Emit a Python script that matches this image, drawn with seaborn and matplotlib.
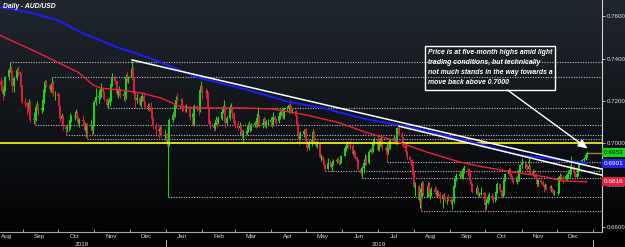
import numpy as np
import pandas as pd
import matplotlib
matplotlib.use("Agg")
import matplotlib.pyplot as plt
import matplotlib.dates as mdates
import matplotlib.transforms as mtransforms
from matplotlib.patches import Rectangle
from matplotlib.ticker import NullFormatter, FixedLocator
import seaborn as sns

# ---- daily AUD/USD candles, one list per month (close / high / low) ----
first_open = 0.7290

aug18_c = [0.7275, 0.7265, 0.7230, 0.7255, 0.7315, 0.7345, 0.7350, 0.7340, 0.7270, 0.7310, 0.7345, 0.7335, 0.7325, 0.7265, 0.7195]
aug18_h = [0.7315, 0.7300, 0.7270, 0.7265, 0.7320, 0.7355, 0.7382, 0.7363, 0.7345, 0.7320, 0.7355, 0.7365, 0.7340, 0.7330, 0.7275]
aug18_l = [0.7245, 0.7245, 0.7202, 0.7225, 0.7245, 0.7300, 0.7335, 0.7320, 0.7240, 0.7240, 0.7300, 0.7320, 0.7300, 0.7260, 0.7185]

sep18_c = [0.7190, 0.7175, 0.7165, 0.7195, 0.7110, 0.7115, 0.7110, 0.7170, 0.7180, 0.7155, 0.7165, 0.7205, 0.7250, 0.7290, 0.7275, 0.7255, 0.7265, 0.7285, 0.7230, 0.7230]
sep18_h = [0.7215, 0.7195, 0.7185, 0.7210, 0.7200, 0.7145, 0.7130, 0.7185, 0.7200, 0.7185, 0.7175, 0.7215, 0.7255, 0.7300, 0.7300, 0.7280, 0.7275, 0.7315, 0.7295, 0.7245]
sep18_l = [0.7170, 0.7135, 0.7145, 0.7150, 0.7100, 0.7090, 0.7085, 0.7105, 0.7155, 0.7135, 0.7140, 0.7150, 0.7190, 0.7240, 0.7265, 0.7240, 0.7240, 0.7255, 0.7225, 0.7205]

oct18_c = [0.7225, 0.7175, 0.7115, 0.7130, 0.7080, 0.7065, 0.7070, 0.7070, 0.7110, 0.7125, 0.7130, 0.7140, 0.7120, 0.7095, 0.7110, 0.7105, 0.7080, 0.7060, 0.7090, 0.7080, 0.7085, 0.7060, 0.7085]
oct18_h = [0.7240, 0.7230, 0.7180, 0.7140, 0.7135, 0.7085, 0.7090, 0.7095, 0.7140, 0.7135, 0.7150, 0.7160, 0.7150, 0.7130, 0.7120, 0.7135, 0.7110, 0.7100, 0.7095, 0.7095, 0.7110, 0.7090, 0.7095]
oct18_l = [0.7200, 0.7160, 0.7100, 0.7090, 0.7060, 0.7040, 0.7050, 0.7055, 0.7065, 0.7100, 0.7110, 0.7120, 0.7110, 0.7085, 0.7075, 0.7085, 0.7060, 0.7050, 0.7030, 0.7020, 0.7060, 0.7040, 0.7045]

nov18_c = [0.7195, 0.7220, 0.7225, 0.7250, 0.7255, 0.7240, 0.7210, 0.7180, 0.7190, 0.7215, 0.7280, 0.7310, 0.7295, 0.7230, 0.7245, 0.7250, 0.7225, 0.7230, 0.7220, 0.7315, 0.7305, 0.7310]
nov18_h = [0.7205, 0.7260, 0.7235, 0.7260, 0.7285, 0.7260, 0.7245, 0.7215, 0.7210, 0.7225, 0.7290, 0.7330, 0.7320, 0.7300, 0.7255, 0.7270, 0.7255, 0.7245, 0.7240, 0.7325, 0.7340, 0.7320]
nov18_l = [0.7080, 0.7180, 0.7190, 0.7210, 0.7220, 0.7220, 0.7200, 0.7170, 0.7165, 0.7175, 0.7200, 0.7270, 0.7280, 0.7225, 0.7215, 0.7235, 0.7215, 0.7205, 0.7195, 0.7210, 0.7290, 0.7285]

dec18_c = [0.7350, 0.7305, 0.7230, 0.7205, 0.7215, 0.7180, 0.7205, 0.7225, 0.7195, 0.7170, 0.7175, 0.7170, 0.7150, 0.7115, 0.7080, 0.7065, 0.7055, 0.7065, 0.7045, 0.7045]
dec18_h = [0.7394, 0.7360, 0.7315, 0.7240, 0.7235, 0.7225, 0.7225, 0.7240, 0.7240, 0.7200, 0.7190, 0.7190, 0.7195, 0.7160, 0.7125, 0.7095, 0.7080, 0.7080, 0.7080, 0.7060]
dec18_l = [0.7305, 0.7290, 0.7225, 0.7165, 0.7190, 0.7175, 0.7170, 0.7200, 0.7180, 0.7160, 0.7155, 0.7150, 0.7140, 0.7100, 0.7065, 0.7045, 0.7020, 0.7040, 0.7030, 0.7015]

jan19_c = [0.6995, 0.7015, 0.7110, 0.7135, 0.7130, 0.7185, 0.7205, 0.7200, 0.7200, 0.7175, 0.7170, 0.7165, 0.7165, 0.7160, 0.7125, 0.7125, 0.7085, 0.7175, 0.7165, 0.7155, 0.7250, 0.7270]
jan19_h = [0.7050, 0.7060, 0.7120, 0.7145, 0.7155, 0.7195, 0.7225, 0.7235, 0.7210, 0.7215, 0.7180, 0.7180, 0.7185, 0.7175, 0.7175, 0.7140, 0.7135, 0.7185, 0.7180, 0.7175, 0.7260, 0.7296]
jan19_l = [0.6985, 0.6744, 0.6985, 0.7100, 0.7115, 0.7125, 0.7165, 0.7195, 0.7170, 0.7145, 0.7150, 0.7145, 0.7145, 0.7150, 0.7110, 0.7115, 0.7080, 0.7085, 0.7150, 0.7135, 0.7145, 0.7240]

feb19_c = [0.7240, 0.7235, 0.7235, 0.7165, 0.7090, 0.7085, 0.7070, 0.7095, 0.7110, 0.7100, 0.7115, 0.7145, 0.7160, 0.7175, 0.7095, 0.7120, 0.7165, 0.7170, 0.7140, 0.7095]
feb19_h = [0.7270, 0.7260, 0.7250, 0.7240, 0.7170, 0.7110, 0.7095, 0.7110, 0.7130, 0.7125, 0.7130, 0.7160, 0.7175, 0.7205, 0.7180, 0.7130, 0.7180, 0.7190, 0.7175, 0.7145]
feb19_l = [0.7210, 0.7215, 0.7210, 0.7150, 0.7080, 0.7065, 0.7055, 0.7060, 0.7085, 0.7075, 0.7090, 0.7110, 0.7140, 0.7150, 0.7070, 0.7085, 0.7110, 0.7155, 0.7120, 0.7085]

mar19_c = [0.7090, 0.7070, 0.7080, 0.7050, 0.7035, 0.7045, 0.7055, 0.7080, 0.7090, 0.7060, 0.7085, 0.7095, 0.7090, 0.7120, 0.7125, 0.7085, 0.7095, 0.7115, 0.7080, 0.7100, 0.7100]
mar19_h = [0.7110, 0.7105, 0.7100, 0.7085, 0.7065, 0.7060, 0.7070, 0.7095, 0.7105, 0.7095, 0.7095, 0.7105, 0.7110, 0.7140, 0.7170, 0.7135, 0.7105, 0.7125, 0.7120, 0.7110, 0.7115]
mar19_l = [0.7070, 0.7060, 0.7045, 0.7045, 0.7025, 0.7005, 0.7040, 0.7050, 0.7070, 0.7050, 0.7055, 0.7075, 0.7070, 0.7075, 0.7110, 0.7075, 0.7070, 0.7080, 0.7075, 0.7070, 0.7085]

apr19_c = [0.7110, 0.7085, 0.7125, 0.7110, 0.7105, 0.7130, 0.7130, 0.7160, 0.7120, 0.7165, 0.7165, 0.7180, 0.7175, 0.7150, 0.7150, 0.7130, 0.7080, 0.7040, 0.7020, 0.7045, 0.7055, 0.7050]
apr19_h = [0.7125, 0.7115, 0.7145, 0.7135, 0.7120, 0.7145, 0.7150, 0.7170, 0.7165, 0.7170, 0.7175, 0.7185, 0.7206, 0.7180, 0.7160, 0.7155, 0.7135, 0.7095, 0.7050, 0.7055, 0.7065, 0.7070]
apr19_l = [0.7080, 0.7070, 0.7080, 0.7095, 0.7090, 0.7095, 0.7115, 0.7125, 0.7115, 0.7115, 0.7150, 0.7140, 0.7165, 0.7140, 0.7140, 0.7125, 0.7070, 0.7025, 0.6990, 0.7015, 0.7030, 0.7025]

may19_c = [0.7010, 0.6975, 0.7005, 0.7015, 0.7050, 0.7005, 0.6985, 0.6995, 0.6935, 0.6935, 0.6920, 0.6895, 0.6875, 0.6905, 0.6900, 0.6885, 0.6900, 0.6915, 0.6920, 0.6915, 0.6910, 0.6910, 0.6940]
may19_h = [0.7070, 0.7015, 0.7015, 0.7025, 0.7065, 0.7055, 0.7015, 0.7010, 0.6995, 0.6950, 0.6940, 0.6925, 0.6900, 0.6930, 0.6920, 0.6910, 0.6910, 0.6925, 0.6930, 0.6935, 0.6920, 0.6925, 0.6945]
may19_l = [0.6995, 0.6960, 0.6965, 0.6985, 0.7005, 0.6995, 0.6980, 0.6975, 0.6930, 0.6915, 0.6900, 0.6885, 0.6865, 0.6880, 0.6890, 0.6880, 0.6865, 0.6895, 0.6905, 0.6910, 0.6895, 0.6900, 0.6905]

jun19_c = [0.6975, 0.6985, 0.6995, 0.6990, 0.6985, 0.6950, 0.6955, 0.6935, 0.6915, 0.6875, 0.6860, 0.6880, 0.6905, 0.6925, 0.6905, 0.6955, 0.6970, 0.6960, 0.7005, 0.7020]
jun19_h = [0.6985, 0.7000, 0.7010, 0.7005, 0.7015, 0.6995, 0.6965, 0.6960, 0.6935, 0.6925, 0.6885, 0.6890, 0.6915, 0.6950, 0.6945, 0.6965, 0.6975, 0.6985, 0.7010, 0.7030]
jun19_l = [0.6940, 0.6960, 0.6975, 0.6975, 0.6970, 0.6945, 0.6935, 0.6925, 0.6905, 0.6870, 0.6850, 0.6832, 0.6860, 0.6895, 0.6895, 0.6900, 0.6955, 0.6950, 0.6955, 0.6990]

jul19_c = [0.6965, 0.6995, 0.7010, 0.7020, 0.6975, 0.6965, 0.6955, 0.6995, 0.6975, 0.7015, 0.7025, 0.7005, 0.7010, 0.7070, 0.7045, 0.7030, 0.6985, 0.6975, 0.6955, 0.6935, 0.6920, 0.6890, 0.6850]
jul19_h = [0.7045, 0.7010, 0.7025, 0.7030, 0.7025, 0.6985, 0.6975, 0.7005, 0.7010, 0.7020, 0.7040, 0.7030, 0.7025, 0.7075, 0.7082, 0.7050, 0.7030, 0.6995, 0.6990, 0.6960, 0.6940, 0.6925, 0.6900]
jul19_l = [0.6960, 0.6960, 0.6985, 0.7005, 0.6965, 0.6950, 0.6911, 0.6950, 0.6965, 0.6970, 0.7005, 0.6995, 0.6995, 0.6995, 0.7035, 0.7015, 0.6980, 0.6970, 0.6945, 0.6925, 0.6905, 0.6880, 0.6845]

aug19_c = [0.6790, 0.6795, 0.6730, 0.6770, 0.6745, 0.6810, 0.6765, 0.6765, 0.6795, 0.6760, 0.6765, 0.6780, 0.6770, 0.6760, 0.6765, 0.6760, 0.6735, 0.6755, 0.6740, 0.6735, 0.6735, 0.6730]
aug19_h = [0.6865, 0.6815, 0.6800, 0.6785, 0.6790, 0.6820, 0.6820, 0.6790, 0.6815, 0.6815, 0.6780, 0.6790, 0.6795, 0.6790, 0.6775, 0.6775, 0.6770, 0.6760, 0.6770, 0.6750, 0.6750, 0.6760]
aug19_l = [0.6785, 0.6750, 0.6720, 0.6690, 0.6677, 0.6740, 0.6755, 0.6745, 0.6745, 0.6745, 0.6735, 0.6750, 0.6760, 0.6745, 0.6750, 0.6745, 0.6715, 0.6690, 0.6735, 0.6720, 0.6710, 0.6725]

sep19_c = [0.6720, 0.6725, 0.6795, 0.6830, 0.6845, 0.6855, 0.6845, 0.6855, 0.6875, 0.6875, 0.6865, 0.6860, 0.6820, 0.6800, 0.6770, 0.6770, 0.6785, 0.6755, 0.6760, 0.6765, 0.6755]
sep19_h = [0.6745, 0.6735, 0.6805, 0.6835, 0.6860, 0.6865, 0.6865, 0.6870, 0.6885, 0.6895, 0.6870, 0.6880, 0.6870, 0.6825, 0.6810, 0.6780, 0.6800, 0.6785, 0.6770, 0.6790, 0.6770]
sep19_l = [0.6710, 0.6688, 0.6715, 0.6790, 0.6820, 0.6835, 0.6830, 0.6835, 0.6830, 0.6860, 0.6845, 0.6830, 0.6815, 0.6780, 0.6765, 0.6760, 0.6760, 0.6750, 0.6745, 0.6750, 0.6740]

oct19_c = [0.6705, 0.6715, 0.6745, 0.6750, 0.6740, 0.6735, 0.6740, 0.6770, 0.6805, 0.6775, 0.6750, 0.6760, 0.6825, 0.6855, 0.6870, 0.6850, 0.6845, 0.6825, 0.6815, 0.6840, 0.6830, 0.6870, 0.6895]
oct19_h = [0.6770, 0.6735, 0.6760, 0.6770, 0.6765, 0.6755, 0.6750, 0.6775, 0.6815, 0.6810, 0.6780, 0.6770, 0.6835, 0.6860, 0.6880, 0.6880, 0.6860, 0.6850, 0.6830, 0.6845, 0.6845, 0.6875, 0.6900]
oct19_l = [0.6671, 0.6685, 0.6710, 0.6725, 0.6730, 0.6715, 0.6720, 0.6730, 0.6765, 0.6770, 0.6740, 0.6745, 0.6755, 0.6820, 0.6850, 0.6840, 0.6830, 0.6815, 0.6805, 0.6805, 0.6815, 0.6820, 0.6860]

nov19_c = [0.6905, 0.6905, 0.6895, 0.6875, 0.6890, 0.6855, 0.6860, 0.6850, 0.6835, 0.6805, 0.6825, 0.6815, 0.6800, 0.6790, 0.6795, 0.6790, 0.6785, 0.6785, 0.6775, 0.6765, 0.6765]
nov19_h = [0.6930, 0.6915, 0.6915, 0.6900, 0.6930, 0.6895, 0.6875, 0.6870, 0.6860, 0.6840, 0.6830, 0.6830, 0.6825, 0.6805, 0.6810, 0.6805, 0.6800, 0.6800, 0.6790, 0.6780, 0.6775]
nov19_l = [0.6880, 0.6880, 0.6875, 0.6865, 0.6870, 0.6850, 0.6845, 0.6840, 0.6815, 0.6790, 0.6795, 0.6805, 0.6795, 0.6770, 0.6780, 0.6775, 0.6775, 0.6770, 0.6770, 0.6755, 0.6755]

dec19_c = [0.6770, 0.6840, 0.6845, 0.6840, 0.6830, 0.6845, 0.6850, 0.6855, 0.6870, 0.6890, 0.6860, 0.6840, 0.6855, 0.6880, 0.6910, 0.6920, 0.6925, 0.6945, 0.6953]
dec19_h = [0.6790, 0.6845, 0.6860, 0.6855, 0.6850, 0.6855, 0.6860, 0.6870, 0.6895, 0.6938, 0.6875, 0.6865, 0.6865, 0.6885, 0.6915, 0.6925, 0.6935, 0.6950, 0.6960]
dec19_l = [0.6755, 0.6765, 0.6825, 0.6820, 0.6810, 0.6825, 0.6825, 0.6830, 0.6835, 0.6855, 0.6845, 0.6830, 0.6835, 0.6845, 0.6865, 0.6900, 0.6910, 0.6920, 0.6935]

# ---- moving averages ----
ma_slow_dates = ["2018-08-12", "2018-09-09", "2018-09-30", "2018-10-22", "2018-11-20", "2018-12-18",
                 "2019-01-30", "2019-03-09", "2019-04-02", "2019-04-17", "2019-05-15", "2019-06-20",
                 "2019-07-28", "2019-08-26", "2019-09-26", "2019-10-30", "2019-12-06", "2019-12-27"]
ma_slow_vals = [0.7645, 0.7616, 0.7583, 0.7521, 0.7455, 0.7403, 0.7308, 0.7256, 0.7218, 0.7194,
                0.7166, 0.7114, 0.7076, 0.7038, 0.6995, 0.6943, 0.6919, 0.6905]

ma_fast_dates = ["2018-08-12", "2018-08-21", "2018-09-09", "2018-09-30", "2018-10-18", "2018-10-31",
                 "2018-11-06", "2018-11-23", "2018-12-11", "2018-12-28", "2019-01-14", "2019-01-30",
                 "2019-02-17", "2019-03-09", "2019-04-02", "2019-04-17", "2019-05-01", "2019-05-30",
                 "2019-06-20", "2019-07-14", "2019-08-12", "2019-09-09", "2019-09-30", "2019-10-24",
                 "2019-11-22", "2019-12-06", "2019-12-27"]
ma_fast_vals = [0.7512, 0.7488, 0.7441, 0.7384, 0.7336, 0.7275, 0.7261, 0.7251, 0.7237, 0.7213,
                0.7171, 0.7166, 0.7166, 0.7166, 0.7161, 0.7147, 0.7133, 0.7095, 0.7052, 0.7014,
                0.6957, 0.6910, 0.6886, 0.6863, 0.6839, 0.6820, 0.6816]

# ---- trendlines (anchor high -> right edge) ----
trend_a_dates = ["2018-12-03", "2020-01-09"]
trend_a_vals = [0.7394, 0.6876]
trend_b_dates = ["2019-07-19", "2020-01-09"]
trend_b_vals = [0.7080, 0.6847]

# ---- dotted horizontal levels (start date, price) ----
level_dates = ["2018-08-21", "2018-09-26", "2018-11-13", "2018-09-11", "2018-10-08", "2018-10-26",
               "2019-01-03", "2019-05-17", "2019-06-18", "2019-07-09", "2019-08-07"]
level_vals = [0.7382, 0.7315, 0.7165, 0.7085, 0.7040, 0.7020, 0.6744, 0.6865, 0.6832, 0.6911, 0.6677]

round_level = 0.7000
tag_vals = [0.6953, 0.6901, 0.6816]
y_ticks = [0.66, 0.68, 0.70, 0.72, 0.74, 0.76]

note = ("Price is at five-month highs amid light\n"
        "trading conditions, but technically\n"
        "not much stands in the way towards a\n"
        "move back above 0.7000")

# ---- assemble the candle table ----
closes = (aug18_c + sep18_c + oct18_c + nov18_c + dec18_c + jan19_c + feb19_c + mar19_c + apr19_c
          + may19_c + jun19_c + jul19_c + aug19_c + sep19_c + oct19_c + nov19_c + dec19_c)
highs = (aug18_h + sep18_h + oct18_h + nov18_h + dec18_h + jan19_h + feb19_h + mar19_h + apr19_h
         + may19_h + jun19_h + jul19_h + aug19_h + sep19_h + oct19_h + nov19_h + dec19_h)
lows = (aug18_l + sep18_l + oct18_l + nov18_l + dec18_l + jan19_l + feb19_l + mar19_l + apr19_l
        + may19_l + jun19_l + jul19_l + aug19_l + sep19_l + oct19_l + nov19_l + dec19_l)

days = pd.bdate_range("2018-08-13", "2019-12-27")
days = days[~days.isin(pd.to_datetime(["2018-12-25", "2019-01-01", "2019-12-25"]))]

df = pd.DataFrame({"date": days, "close": closes, "high": highs, "low": lows})
df["open"] = df["close"].shift(1).fillna(first_open)
df["x"] = mdates.date2num(df["date"])
df["top"] = df[["high", "open", "close"]].max(axis=1)
df["bot"] = df[["low", "open", "close"]].min(axis=1)
up = df["close"] >= df["open"]
GREEN, RED = "#19d419", "#d81d3c"
df["col"] = np.where(up, GREEN, RED)

def dnum(lst):
    return mdates.date2num(pd.to_datetime(lst))

# ---- figure ----
sns.set_style("dark")
plt.rcParams["font.family"] = ["Liberation Sans", "DejaVu Sans"]

W, H = 625, 247
fig = plt.figure(figsize=(W / 100, H / 100), dpi=100, facecolor="black")

# dark gradient backdrop
bg = fig.add_axes([0, 15 / H, 1, 232 / H], zorder=0)
top_c = np.array([33, 39, 47]) / 255
bot_c = np.array([2, 3, 4]) / 255
t = np.linspace(0, 1, 232)[:, None, None]
bg.imshow(top_c * (1 - t) + bot_c * t, aspect="auto", extent=[0, 1, 0, 1])
bg.set_axis_off()

ax = fig.add_axes([0, 15 / H, 602 / W, 232 / H], zorder=1)
ax.set_facecolor("none")
ax.patch.set_alpha(0)

x_left = mdates.date2num(pd.Timestamp("2018-08-12 08:00"))
x_right = mdates.date2num(pd.Timestamp("2020-01-08 18:00"))

# levels
ax.hlines(level_vals, dnum(level_dates), x_right, colors="#bdbdbd", lw=0.8,
          linestyles=(0, (1.0, 1.3)), zorder=1)

# candles
ax.vlines(df["x"], df["bot"], df["top"], colors=df["col"], lw=0.75, zorder=2)
ax.vlines(df["x"], df["open"], df["close"], colors=df["col"], lw=1.4, zorder=2)

# round number
ax.axhline(round_level, color="#ffff10", lw=1.2, zorder=3)

# moving averages
sns.lineplot(x=dnum(ma_fast_dates), y=ma_fast_vals, ax=ax, color="#f0203c", lw=1.0, zorder=3)
sns.lineplot(x=dnum(ma_slow_dates), y=ma_slow_vals, ax=ax, color="#1c1cff", lw=1.4, zorder=3)

# trendlines
sns.lineplot(x=dnum(trend_a_dates), y=trend_a_vals, ax=ax, color="white", lw=1.1, zorder=4)
sns.lineplot(x=dnum(trend_b_dates), y=trend_b_vals, ax=ax, color="white", lw=1.1, zorder=4)

# last price line
ax.hlines(df["close"].iloc[-1], df["x"].iloc[-1], x_right, colors="#c07a30", lw=1.0, zorder=3)

ax.set_xlim(x_left, x_right)
ax.set_ylim(0.6578, 0.7678)
ax.set_xlabel("")
ax.set_ylabel("")
ax.grid(False)

# axes styling
for s in ["top", "left"]:
    ax.spines[s].set_visible(False)
ax.spines["bottom"].set_color("#a8a8a8")
ax.spines["bottom"].set_linewidth(0.8)
ax.spines["right"].set_color("#cfcfcf")
ax.spines["right"].set_linewidth(0.8)

ax.yaxis.tick_right()
ax.set_yticks(y_ticks)
ax.set_yticklabels([f"{v:.4f}" for v in y_ticks])
ax.tick_params(axis="y", which="major", right=True, left=False, length=2.2, width=0.6,
               color="#dddddd", labelsize=4.4, labelcolor="#dddddd", pad=1)

ax.xaxis.set_major_locator(mdates.MonthLocator())
ax.xaxis.set_major_formatter(NullFormatter())
mid = [pd.Timestamp("2018-08-18")] + list(pd.date_range("2018-09-01", "2019-12-01", freq="MS") + pd.Timedelta(days=14))
ax.xaxis.set_minor_locator(FixedLocator(mdates.date2num(mid)))
ax.xaxis.set_minor_formatter(mdates.DateFormatter("%b"))
ax.tick_params(axis="x", which="major", bottom=True, length=2.5, width=0.6, color="#bbbbbb",
               direction="in")
ax.tick_params(axis="x", which="minor", bottom=True, length=0, labelsize=4.6,
               labelcolor="#d9d9d9", pad=1.6)

# years under the months
xt = mtransforms.blended_transform_factory(ax.transData, ax.transAxes)
for label, d in [("2018", "2018-10-21"), ("2019", "2019-07-02")]:
    ax.text(dnum([d])[0], -0.052, label, transform=xt, ha="center", va="center",
            fontsize=4.6, color="#d9d9d9", clip_on=False)
for d in ["2019-01-01", "2020-01-01"]:
    xd = dnum([d])[0]
    ax.plot([xd, xd], [-0.033, -0.07], transform=xt, color="#bbbbbb", lw=0.7, clip_on=False)

# price tags on the right axis
yt = mtransforms.blended_transform_factory(ax.transAxes, ax.transData)
tag_style = [("#18d418", "#051005"), ("#2323e6", "white"), ("#e0213f", "white")]
for v, (fc, tc) in zip(tag_vals, tag_style):
    ax.text(1.003, v, f"{v:.4f}", transform=yt, ha="left", va="center", fontsize=4.6,
            color=tc, clip_on=False, zorder=6,
            bbox=dict(boxstyle="square,pad=0.3", fc=fc, ec="none"))

# commentary box and arrow
ax.add_patch(Rectangle((0.706, 0.612), 0.216, 0.19, transform=ax.transAxes, fill=False,
                       ec="white", lw=1.0, zorder=7, clip_on=False))
ax.text(0.711, 0.79, note, transform=ax.transAxes, ha="left", va="top", color="white",
        fontsize=4.95, fontstyle="italic", fontweight="bold", linespacing=1.6,
        family=["Liberation Sans", "DejaVu Sans"], zorder=7)
ax.annotate("", xy=(0.976, 0.36), xytext=(0.843, 0.612), xycoords="axes fraction",
            arrowprops=dict(arrowstyle="-|>,head_length=0.55,head_width=0.25", color="white",
                            lw=1.0, shrinkA=0, shrinkB=0), zorder=7)

fig.text(3 / W, 1 - 6 / H, "Daily - AUD/USD", ha="left", va="center", color="white",
         fontsize=4.9, fontstyle="italic", fontweight="bold",
         family=["Liberation Sans", "DejaVu Sans"])

fig.savefig("out.png", dpi=100, facecolor=fig.get_facecolor())
